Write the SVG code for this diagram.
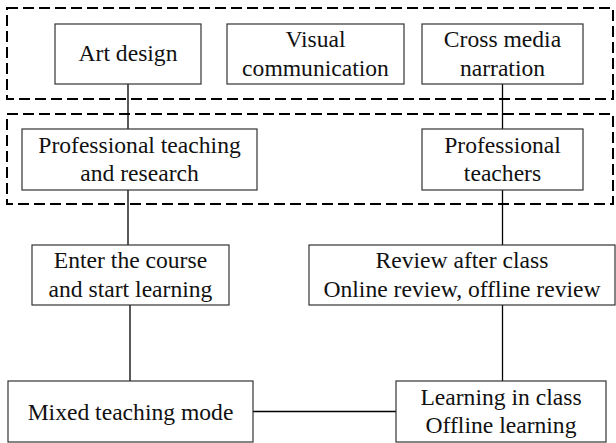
<svg xmlns="http://www.w3.org/2000/svg" width="616" height="443" viewBox="0 0 616 443">
<style>
.grp{fill:none;stroke:#000;stroke-width:2;stroke-dasharray:11 5}
.box{fill:#fff;stroke:#333;stroke-width:1.2}
.lbl{font-family:'Liberation Serif','Times New Roman',Times,serif;font-size:23.6px;fill:#111;text-anchor:middle}
.con{fill:none;stroke:#000;stroke-width:1.3}
</style>
<rect width="616" height="443" fill="#fff"/>
<g id="groups">
<rect class="grp" x="7" y="8" width="606" height="91"/>
<rect class="grp" x="7" y="114" width="606" height="90"/>
</g>
<g id="connectors">
<line class="con" x1="128" y1="84" x2="128" y2="245"/>
<line class="con" x1="130" y1="305" x2="130" y2="381"/>
<line class="con" x1="502.5" y1="84" x2="502.5" y2="129"/>
<line class="con" x1="502.5" y1="190" x2="502.5" y2="245"/>
<line class="con" x1="502.5" y1="305" x2="502.5" y2="381"/>
<line class="con" x1="253" y1="411.5" x2="396" y2="411.5"/>
</g>
<g id="art-design">
<rect class="box" x="55" y="24" width="146" height="60"/>
<text class="lbl" x="128" y="61">Art design</text>
</g>
<g id="visual-communication">
<rect class="box" x="227" y="24" width="177" height="60"/>
<text class="lbl" x="315.5" y="47">Visual</text>
<text class="lbl" x="315.5" y="76">communication</text>
</g>
<g id="cross-media">
<rect class="box" x="422" y="24" width="161" height="60"/>
<text class="lbl" x="502.5" y="47">Cross media</text>
<text class="lbl" x="502.5" y="76">narration</text>
</g>
<g id="prof-teaching">
<rect class="box" x="22" y="129" width="235" height="61"/>
<text class="lbl" x="139.5" y="153">Professional teaching</text>
<text class="lbl" x="139.5" y="181">and research</text>
</g>
<g id="prof-teachers">
<rect class="box" x="422" y="129" width="161" height="61"/>
<text class="lbl" x="502.5" y="153">Professional</text>
<text class="lbl" x="502.5" y="181">teachers</text>
</g>
<g id="enter-course">
<rect class="box" x="32" y="245" width="197" height="60"/>
<text class="lbl" x="130.5" y="268">Enter the course</text>
<text class="lbl" x="130.5" y="297">and start learning</text>
</g>
<g id="review">
<rect class="box" x="309" y="245" width="306" height="60"/>
<text class="lbl" x="462" y="268">Review after class</text>
<text class="lbl" x="462" y="297">Online review, offline review</text>
</g>
<g id="mixed">
<rect class="box" x="8" y="381" width="245" height="61"/>
<text class="lbl" x="130.5" y="420">Mixed teaching mode</text>
</g>
<g id="learning-in-class">
<rect class="box" x="396" y="381" width="210" height="61"/>
<text class="lbl" x="501" y="405">Learning in class</text>
<text class="lbl" x="501" y="433">Offline learning</text>
</g>
</svg>
